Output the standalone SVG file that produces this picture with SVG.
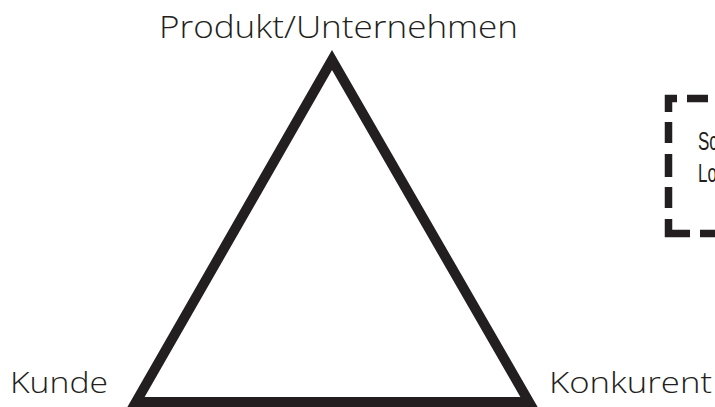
<svg xmlns="http://www.w3.org/2000/svg" width="715" height="407" viewBox="0 0 715 407">
<style>
.lbl{font-family:"Open Sans","Liberation Sans",Arial,sans-serif;font-weight:300;fill:#231f20;}
.note{font-family:"Liberation Sans",Arial,sans-serif;fill:#231f20;font-size:25px;}
.dash{fill:none;stroke:#231f20;stroke-width:7.5;stroke-linejoin:miter;stroke-linecap:butt;}
</style>
<rect width="715" height="407" fill="#ffffff"/>
<g id="triangle">
<polygon points="332,60 136,402 529,402" fill="none" stroke="#231f20" stroke-width="10" stroke-linejoin="miter" stroke-miterlimit="10"/>
</g>
<g id="node-produkt">
<text class="lbl" x="159" y="38" font-size="31" textLength="359" lengthAdjust="spacingAndGlyphs">Produkt/Unternehmen</text>
</g>
<g id="node-kunde">
<text class="lbl" x="10" y="393" font-size="29" textLength="98" lengthAdjust="spacingAndGlyphs">Kunde</text>
</g>
<g id="node-konkurent">
<text class="lbl" x="549" y="393" font-size="29" textLength="163" lengthAdjust="spacingAndGlyphs">Konkurent</text>
</g>
<g id="node-note">
<path class="dash" d="M687,98.5 H708 M677,98.5 H668.5 V112 M668.5,122 V143 M668.5,154 V177 M668.5,187 V208 M668.5,219 V233.5 H690 M700,233.5 H720"/>
<text class="note" transform="translate(698,150) scale(0.68,1)">Sc</text>
<text class="note" transform="translate(698,182) scale(0.68,1)">Lo</text>
</g>
<g id="connectors"></g>
</svg>
